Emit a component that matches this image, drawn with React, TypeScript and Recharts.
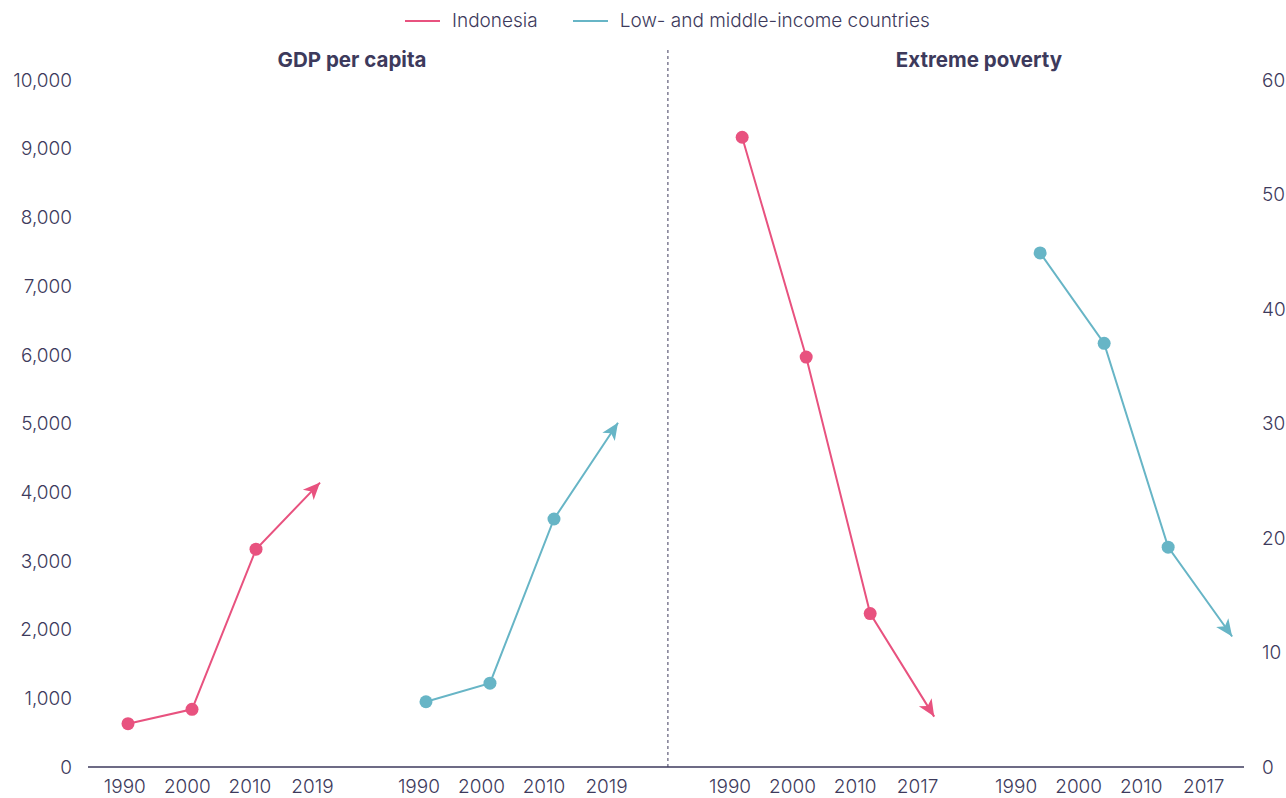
import React from 'react';
import { LineChart, Line, XAxis, YAxis, ReferenceLine } from 'recharts';

// tick labels for each panel
const gdpYears = ['1990', '2000', '2010', '2019'];
const povertyYears = ['1990', '2000', '2010', '2017'];

// GDP per capita (US$)
const indonesiaGdp = [630, 840, 3170, 4140];
const lmicGdp = [950, 1220, 3610, 5010];

// Extreme poverty (% of population)
const indonesiaPoverty = [55.0, 35.8, 13.4, 4.4];
const lmicPoverty = [44.9, 37.0, 19.2, 11.4];

const gdpTicks = [0, 1000, 2000, 3000, 4000, 5000, 6000, 7000, 8000, 9000, 10000];
const povertyTicks = [0, 10, 20, 30, 40, 50, 60];

const legendItems = [
  { name: 'Indonesia', color: '#E8527F' },
  { name: 'Low- and middle-income countries', color: '#67B5C6' },
];

const PINK = '#E8527F';
const TEAL = '#67B5C6';
const INK = '#3D3A5C';

// x axis is measured in "slots" (one period step); each group of four
// periods starts at its own slot, ticks sit a touch left of the marks
const X_MAX = 18.06;
const TICK_STEP = 0.977;
const groups = [
  { start: 0.625, tickShift: -0.05, labels: gdpYears },
  { start: 5.28, tickShift: -0.11, labels: gdpYears },
  { start: 10.22, tickShift: -0.19, labels: povertyYears },
  { start: 14.875, tickShift: -0.375, labels: povertyYears },
];
const DIVIDER_X = 9.06;

const toSeries = (values: number[], g: number) =>
  values.map((v, i) => ({ x: groups[g].start + i, v }));

const tickLabels = new Map<string, string>();
const xTicks: number[] = [];
groups.forEach((g) => {
  g.labels.forEach((label, i) => {
    const pos = g.start + g.tickShift + i * TICK_STEP;
    xTicks.push(pos);
    tickLabels.set(pos.toFixed(3), label);
  });
});

/**
 * Dot renderer: filled circle for each point, arrowhead on the last one
 */
function makeDot(color: string) {
  return (props: any) => {
    const { cx, cy, index, points } = props;
    const last = points ? points.length - 1 : -1;
    if (index === last && index > 0) {
      const prev = points[index - 1];
      const angle = (Math.atan2(cy - prev.y, cx - prev.x) * 180) / Math.PI;
      return (
        <path
          key={`arrow-${index}`}
          d="M0,0 L-17,-7.5 L-12.5,0 L-17,7.5 Z"
          fill={color}
          transform={`translate(${cx},${cy}) rotate(${angle})`}
        />
      );
    }
    return <circle key={`dot-${index}`} cx={cx} cy={cy} r={6.5} fill={color} stroke="none" />;
  };
}

export default function App() {
  const tickStyle = { fill: INK, fontSize: 19, fontWeight: 300 };
  const titleStyle: React.CSSProperties = {
    position: 'absolute',
    top: 47,
    width: 300,
    textAlign: 'center',
    fontSize: 20.5,
    fontWeight: 700,
    lineHeight: '26px',
  };

  return (
    <div
      style={{
        position: 'absolute',
        left: 0,
        top: 0,
        width: 1286,
        height: 798,
        background: '#fff',
        fontFamily: 'Inter, "Noto Sans", sans-serif',
        color: INK,
      }}
    >
      {/* legend */}
      <div
        style={{
          position: 'absolute',
          top: 9,
          left: 405,
          display: 'flex',
          alignItems: 'center',
          gap: 35,
          fontSize: 19,
          fontWeight: 300,
          lineHeight: '24px',
        }}
      >
        {legendItems.map((item) => (
          <div key={item.name} style={{ display: 'flex', alignItems: 'center', gap: 12 }}>
            <span style={{ display: 'inline-block', width: 35, height: 2.5, background: item.color }} />
            <span>{item.name}</span>
          </div>
        ))}
      </div>

      {/* panel titles */}
      <div style={{ ...titleStyle, left: 202 }}>GDP per capita</div>
      <div style={{ ...titleStyle, left: 829 }}>Extreme poverty</div>

      <LineChart width={1286} height={798} margin={{ top: 80, right: 0, bottom: 1, left: 0 }}>
        <XAxis
          type="number"
          dataKey="x"
          domain={[0, X_MAX]}
          ticks={xTicks}
          interval={0}
          allowDataOverflow
          height={30}
          tickLine={false}
          tickMargin={7}
          axisLine={{ stroke: INK, strokeWidth: 1.5 }}
          tick={tickStyle}
          tickFormatter={(v: number) => tickLabels.get(v.toFixed(3)) ?? ''}
        />
        <YAxis
          yAxisId="gdp"
          orientation="left"
          width={88}
          domain={[0, 10000]}
          ticks={gdpTicks}
          interval={0}
          axisLine={false}
          tickLine={false}
          tickMargin={10}
          tick={tickStyle}
          tickFormatter={(v: number) => v.toLocaleString('en-US')}
        />
        <YAxis
          yAxisId="pov"
          orientation="right"
          width={42}
          domain={[0, 60]}
          ticks={povertyTicks}
          interval={0}
          axisLine={false}
          tickLine={false}
          tickMargin={12}
          tick={tickStyle}
        />
        <ReferenceLine
          yAxisId="gdp"
          segment={[
            { x: DIVIDER_X, y: 0 },
            { x: DIVIDER_X, y: 10440 },
          ]}
          ifOverflow="visible"
          stroke={INK}
          strokeWidth={1}
          strokeDasharray="3 3"
        />
        <Line
          yAxisId="gdp"
          data={toSeries(indonesiaGdp, 0)}
          dataKey="v"
          stroke={PINK}
          strokeWidth={2}
          dot={makeDot(PINK)}
          activeDot={false}
          isAnimationActive={false}
        />
        <Line
          yAxisId="gdp"
          data={toSeries(lmicGdp, 1)}
          dataKey="v"
          stroke={TEAL}
          strokeWidth={2}
          dot={makeDot(TEAL)}
          activeDot={false}
          isAnimationActive={false}
        />
        <Line
          yAxisId="pov"
          data={toSeries(indonesiaPoverty, 2)}
          dataKey="v"
          stroke={PINK}
          strokeWidth={2}
          dot={makeDot(PINK)}
          activeDot={false}
          isAnimationActive={false}
        />
        <Line
          yAxisId="pov"
          data={toSeries(lmicPoverty, 3)}
          dataKey="v"
          stroke={TEAL}
          strokeWidth={2}
          dot={makeDot(TEAL)}
          activeDot={false}
          isAnimationActive={false}
        />
      </LineChart>
    </div>
  );
}
